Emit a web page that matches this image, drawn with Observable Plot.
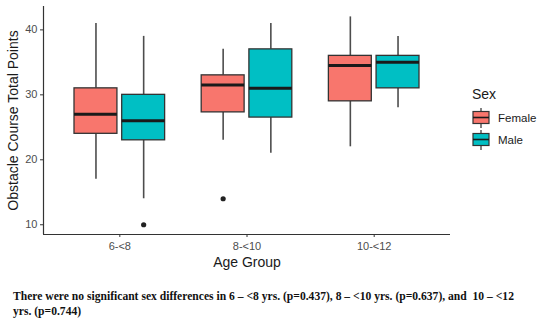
<!DOCTYPE html>
<html>
<head>
<meta charset="utf-8">
<script src="https://cdn.jsdelivr.net/npm/d3@7"></script>
<script src="https://cdn.jsdelivr.net/npm/@observablehq/plot@0.6"></script>
<style>
  html, body { margin: 0; padding: 0; background: #fff; }
  #wrap { position: relative; width: 550px; height: 326px; overflow: hidden; font-family: "Liberation Sans", Arial, sans-serif; }
  #chart { position: absolute; left: 0; top: 0; }
  #legend { position: absolute; left: 472px; top: 86px; }
  #legend .title { font-size: 14px; color: #1a1a1a; margin-bottom: 5px; }
  #legend .row { display: flex; align-items: center; height: 22px; }
  #legend .row span { font-size: 11.5px; color: #1a1a1a; margin-left: 8px; }
  #caption { position: absolute; left: 13px; top: 290px; width: 535px; font-family: "Liberation Serif", "Times New Roman", serif; font-weight: bold; font-size: 11.6px; line-height: 14.5px; color: #111; white-space: pre-wrap; }
</style>
</head>
<body>
<div id="wrap">
  <div id="chart"></div>
  <div id="legend"></div>
  <div id="caption"></div>
</div>
<script>
// ---- data ----
const ages = ["6-<8", "8-<10", "10-<12"];
const sexes = ["Female", "Male"];
const sexColors = ["#F8766D", "#00BFC4"];
const boxAge = ["6-<8", "6-<8", "8-<10", "8-<10", "10-<12", "10-<12"];
const boxSex = ["Female", "Male", "Female", "Male", "Female", "Male"];
const whiskerLow = [17, 14, 23, 21, 22, 28];
const q1 = [24, 23, 27.3, 26.5, 29, 31];
const median = [27, 26, 31.5, 31, 34.5, 35];
const q3 = [31, 30, 33, 37, 36, 36];
const whiskerHigh = [41, 39, 37, 41, 42, 39];
const outlierAge = ["6-<8", "8-<10"];
const outlierSex = ["Male", "Female"];
const outlierValue = [10, 14];
const yTicks = [10, 20, 30, 40];
const xTitle = "Age Group";
const yTitle = "Obstacle Course Total Points";
const legendTitle = "Sex";
const captionLines = [
  "There were no significant sex differences in 6 \u2013 <8 yrs. (p=0.437), 8 \u2013 <10 yrs. (p=0.637), and  10 \u2013 <12",
  "yrs. (p=0.744)"
];

// ---- layout params ----
const dodge = 0.1875;      // half of ggplot dodge width 0.75
const halfBox = 0.16875;   // half box width
const xDomain = [-0.6, ages.length - 1 + 0.6];
const yDomain = [8.5, 43.6];

const pos = (age, sex) => ages.indexOf(age) + (sex === sexes[0] ? -dodge : dodge);

const boxes = boxAge.map((a, i) => ({
  age: a, sex: boxSex[i], lo: whiskerLow[i], q1: q1[i], med: median[i], q3: q3[i], hi: whiskerHigh[i],
  x: pos(a, boxSex[i])
}));
const outliers = outlierAge.map((a, i) => ({ age: a, sex: outlierSex[i], v: outlierValue[i], x: pos(a, outlierSex[i]) }));

const plot = Plot.plot({
  width: 550,
  height: 270,
  marginLeft: 43,
  marginRight: 100,
  marginTop: 6,
  marginBottom: 36,
  style: { fontFamily: "Liberation Sans, Arial, sans-serif", background: "#fff", overflow: "visible" },
  x: { domain: xDomain, axis: null },
  y: { domain: yDomain, axis: null },
  color: { domain: sexes, range: sexColors },
  marks: [
    // whiskers
    Plot.ruleX(boxes, { x: "x", y1: "lo", y2: "q1", stroke: "#4d4d4d", strokeWidth: 1.6 }),
    Plot.ruleX(boxes, { x: "x", y1: "q3", y2: "hi", stroke: "#4d4d4d", strokeWidth: 1.6 }),
    // boxes
    Plot.rect(boxes, { x1: d => d.x - halfBox, x2: d => d.x + halfBox, y1: "q1", y2: "q3", fill: "sex", stroke: "#333", strokeWidth: 1.3 }),
    // medians
    Plot.ruleY(boxes, { y: "med", x1: d => d.x - halfBox, x2: d => d.x + halfBox, stroke: "#1a1a1a", strokeWidth: 3 }),
    // outliers
    Plot.dot(outliers, { x: "x", y: "v", r: 2.6, fill: "#222", stroke: "none" }),
    // axis lines
    Plot.ruleY([yDomain[0]], { stroke: "#333", strokeWidth: 1.2 }),
    Plot.ruleX([xDomain[0]], { stroke: "#333", strokeWidth: 1.2 }),
    // axes
    Plot.axisX(ages.map((a, i) => i), { tickFormat: i => ages[i], tickSize: 3, tickPadding: 5, fontSize: 11, color: "#4d4d4d", stroke: "#333", label: null }),
    Plot.axisY(yTicks, { tickSize: 3, tickPadding: 3, fontSize: 11, color: "#4d4d4d", stroke: "#333", label: null }),
    // axis titles
    Plot.text([xTitle], { frameAnchor: "bottom", dy: 28, lineAnchor: "middle", fontSize: 14, fill: "#1a1a1a" }),
    Plot.text([yTitle], { frameAnchor: "left", dx: -30, rotate: -90, textAnchor: "middle", fontSize: 14, fill: "#1a1a1a" })
  ]
});
document.getElementById("chart").appendChild(plot);

// legend
const legend = document.getElementById("legend");
const t = document.createElement("div");
t.className = "title";
t.textContent = legendTitle;
legend.appendChild(t);
sexes.forEach((s, i) => {
  const row = document.createElement("div");
  row.className = "row";
  const ns = "http://www.w3.org/2000/svg";
  const svg = document.createElementNS(ns, "svg");
  svg.setAttribute("width", 18);
  svg.setAttribute("height", 20);
  const wl = document.createElementNS(ns, "line");
  wl.setAttribute("x1", 9); wl.setAttribute("x2", 9); wl.setAttribute("y1", 0); wl.setAttribute("y2", 20);
  wl.setAttribute("stroke", "#4d4d4d"); wl.setAttribute("stroke-width", 1.4);
  const r = document.createElementNS(ns, "rect");
  r.setAttribute("x", 1); r.setAttribute("y", 3.5); r.setAttribute("width", 16); r.setAttribute("height", 12);
  r.setAttribute("fill", sexColors[i]); r.setAttribute("stroke", "#333"); r.setAttribute("stroke-width", 1.2);
  const m = document.createElementNS(ns, "line");
  m.setAttribute("x1", 1); m.setAttribute("x2", 17); m.setAttribute("y1", 9.5); m.setAttribute("y2", 9.5);
  m.setAttribute("stroke", "#1a1a1a"); m.setAttribute("stroke-width", 1.6);
  svg.appendChild(wl); svg.appendChild(r); svg.appendChild(m);
  row.appendChild(svg);
  const lab = document.createElement("span");
  lab.textContent = s;
  row.appendChild(lab);
  legend.appendChild(row);
});

// caption
document.getElementById("caption").textContent = captionLines.join("\n");
</script>
</body>
</html>
